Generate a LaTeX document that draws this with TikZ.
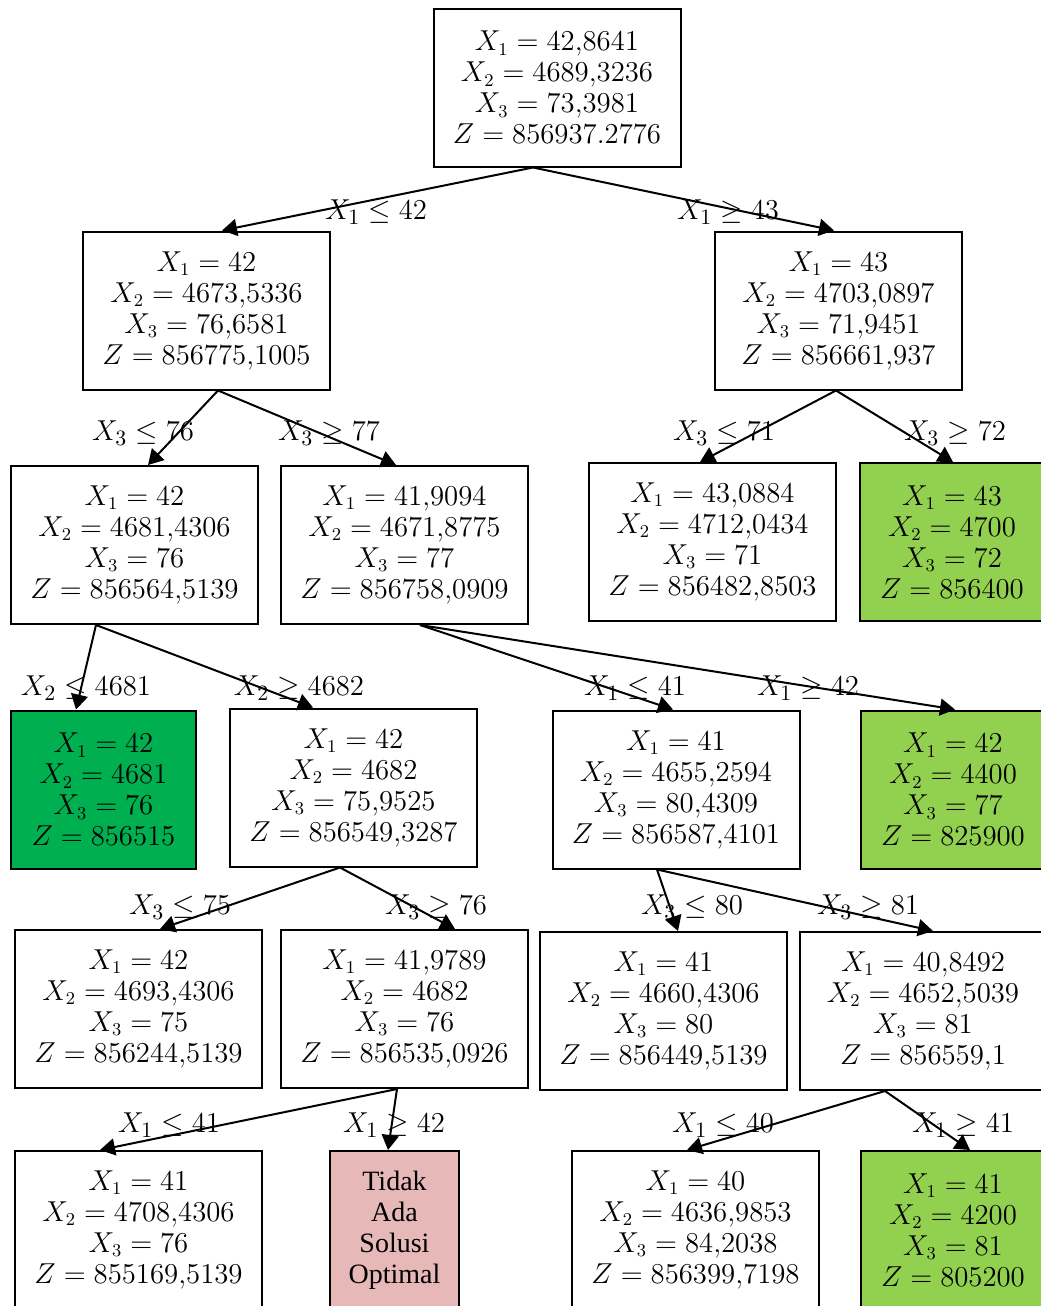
\documentclass[tikz,border=0pt]{standalone}
\usepackage{amsmath, amssymb}
\usepackage{fontspec}
\usepackage{tikz}
\usepackage{xcolor}
\usetikzlibrary{arrows.meta}
\newfontfamily\timesfont{Liberation Serif}
\definecolor{feasgreen}{HTML}{92D050}
\definecolor{bestgreen}{HTML}{00B050}
\definecolor{nosolpink}{HTML}{E6B8B7}

\begin{document}
\begin{tikzpicture}[x=0.5pt,y=-0.5pt,
    box/.style={draw, line width=1pt, minimum width=123.5pt, minimum height=79pt,
      inner sep=0pt, align=center, font=\fontsize{13.5}{15.5}\selectfont},
    narrow/.style={box, minimum width=92pt},
    lbl/.style={inner sep=0pt, font=\fontsize{15.5}{17}\selectfont},
    arr/.style={line width=1pt, -{Triangle[length=7.5pt,width=8.5pt]}}]
  \useasboundingbox (0,0) rectangle (1040,1306);

  % subproblems
  \node[box] (P0) at (557,87.5) {$X_1 = 42{,}8641$\\ $X_2 = 4689{,}3236$\\ $X_3 = 73{,}3981$\\ $Z = 856937.2776$};
  \node[box] (P1) at (206.5,310.5) {$X_1 = 42$\\ $X_2 = 4673{,}5336$\\ $X_3 = 76{,}6581$\\ $Z = 856775{,}1005$};
  \node[box] (P2) at (838.5,310.5) {$X_1 = 43$\\ $X_2 = 4703{,}0897$\\ $X_3 = 71{,}9451$\\ $Z = 856661{,}937$};
  \node[box] (P3) at (134.5,545) {$X_1 = 42$\\ $X_2 = 4681{,}4306$\\ $X_3 = 76$\\ $Z = 856564{,}5139$};
  \node[box] (P4) at (404.5,545) {$X_1 = 41{,}9094$\\ $X_2 = 4671{,}8775$\\ $X_3 = 77$\\ $Z = 856758{,}0909$};
  \node[box] (P5) at (712.5,542) {$X_1 = 43{,}0884$\\ $X_2 = 4712{,}0434$\\ $X_3 = 71$\\ $Z = 856482{,}8503$};
  \node[narrow, fill=feasgreen] (P6) at (952,542) {$X_1 = 43$\\ $X_2 = 4700$\\ $X_3 = 72$\\ $Z = 856400$};
  \node[narrow, fill=bestgreen, minimum width=92.5pt] (P7) at (103.5,789.5) {$X_1 = 42$\\ $X_2 = 4681$\\ $X_3 = 76$\\ $Z = 856515$};
  \node[box] (P8) at (353.5,787.5) {$X_1 = 42$\\ $X_2 = 4682$\\ $X_3 = 75{,}9525$\\ $Z = 856549{,}3287$};
  \node[box] (P9) at (676,789.5) {$X_1 = 41$\\ $X_2 = 4655{,}2594$\\ $X_3 = 80{,}4309$\\ $Z = 856587{,}4101$};
  \node[narrow, fill=feasgreen] (P10) at (953,789.5) {$X_1 = 42$\\ $X_2 = 4400$\\ $X_3 = 77$\\ $Z = 825900$};
  \node[box] (P11) at (138.5,1009) {$X_1 = 42$\\ $X_2 = 4693{,}4306$\\ $X_3 = 75$\\ $Z = 856244{,}5139$};
  \node[box] (P12) at (404.5,1009) {$X_1 = 41{,}9789$\\ $X_2 = 4682$\\ $X_3 = 76$\\ $Z = 856535{,}0926$};
  \node[box] (P13) at (663.5,1011) {$X_1 = 41$\\ $X_2 = 4660{,}4306$\\ $X_3 = 80$\\ $Z = 856449{,}5139$};
  \node[box] (P14) at (923,1011) {$X_1 = 40{,}8492$\\ $X_2 = 4652{,}5039$\\ $X_3 = 81$\\ $Z = 856559{,}1$};
  \node[box] (P15) at (138.5,1230) {$X_1 = 41$\\ $X_2 = 4708{,}4306$\\ $X_3 = 76$\\ $Z = 855169{,}5139$};
  \node[box, fill=nosolpink, minimum width=64.5pt, font=\timesfont\fontsize{14}{15.5}\selectfont] (P16) at (394.5,1230) {Tidak\\ Ada\\ Solusi\\ Optimal};
  \node[box] (P17) at (695.5,1230) {$X_1 = 40$\\ $X_2 = 4636{,}9853$\\ $X_3 = 84{,}2038$\\ $Z = 856399{,}7198$};
  \node[narrow, fill=feasgreen] (P18) at (953,1230) {$X_1 = 41$\\ $X_2 = 4200$\\ $X_3 = 81$\\ $Z = 805200$};

  % branches
  \draw[arr] ([xshift=-12pt]P0.south) -- ([xshift=7.75pt]P1.north);
  \draw[arr] ([xshift=-12pt]P0.south) -- ([xshift=-2.25pt]P2.north);
  \draw[arr] ([xshift=5.75pt]P1.south) -- ([xshift=6.75pt]P3.north);
  \draw[arr] ([xshift=5.75pt]P1.south) -- ([xshift=-4.25pt]P4.north);
  \draw[arr] ([xshift=-1.25pt]P2.south) -- ([xshift=-6.25pt]P5.north);
  \draw[arr] ([xshift=-1.25pt]P2.south) -- ([xshift=0.5pt]P6.north);
  \draw[arr] ([xshift=-19.25pt]P3.south) -- ([xshift=-13.75pt]P7.north);
  \draw[arr] ([xshift=-19.25pt]P3.south) -- ([xshift=-20.25pt]P8.north);
  \draw[arr] ([xshift=7.75pt]P4.south) -- ([xshift=-1.5pt]P9.north);
  \draw[arr] ([xshift=7.75pt]P4.south) -- ([xshift=1pt]P10.north);
  \draw[arr] ([xshift=-6.75pt]P8.south) -- ([xshift=10.75pt]P11.north);
  \draw[arr] ([xshift=-6.75pt]P8.south) -- ([xshift=25.25pt]P12.north);
  \draw[arr] ([xshift=-9.5pt]P9.south) -- ([xshift=7.25pt]P13.north);
  \draw[arr] ([xshift=-9.5pt]P9.south) -- ([xshift=5pt]P14.north);
  \draw[arr] ([xshift=-3.75pt]P12.south) -- ([xshift=-19.25pt]P15.north);
  \draw[arr] ([xshift=-3.75pt]P12.south) -- ([xshift=-3.25pt]P16.north);
  \draw[arr] ([xshift=-19pt]P14.south) -- ([xshift=-4.25pt]P17.north);
  \draw[arr] ([xshift=-19pt]P14.south) -- ([xshift=8.5pt]P18.north);

  % branch labels
  \node[lbl] (b1) at (376,212) {$X_1 \leq 42$};
  \node[lbl] (b2) at (728,212) {$X_1 \geq 43$};
  \node[lbl] (b3) at (143,433) {$X_3 \leq 76$};
  \node[lbl] (b4) at (329,433) {$X_3 \geq 77$};
  \node[lbl] (b5) at (724,433) {$X_3 \leq 71$};
  \node[lbl] (b6) at (955,433) {$X_3 \geq 72$};
  \node[lbl] (b7) at (86,688) {$X_2 \leq 4681$};
  \node[lbl] (b8) at (299,688) {$X_2 \geq 4682$};
  \node[lbl] (b9) at (635,688) {$X_1 \leq 41$};
  \node[lbl] (b10) at (808,688) {$X_1 \geq 42$};
  \node[lbl] (b11) at (180,907) {$X_3 \leq 75$};
  \node[lbl] (b12) at (436,907) {$X_3 \geq 76$};
  \node[lbl] (b13) at (692,907) {$X_3 \leq 80$};
  \node[lbl] (b14) at (868,907) {$X_3 \geq 81$};
  \node[lbl] (b15) at (169,1125) {$X_1 \leq 41$};
  \node[lbl] (b16) at (394,1125) {$X_1 \geq 42$};
  \node[lbl] (b17) at (723,1125) {$X_1 \leq 40$};
  \node[lbl] (b18) at (963,1125) {$X_1 \geq 41$};
\end{tikzpicture}
\end{document}
